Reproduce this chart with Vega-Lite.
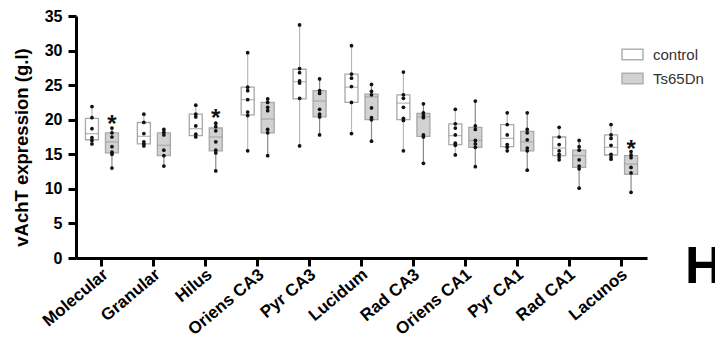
{
  "$schema": "https://vega.github.io/schema/vega-lite/v6.json",
  "width": 571,
  "height": 242,
  "autosize": {"type": "none"},
  "padding": {"left": 76, "top": 16, "right": 68, "bottom": 99},
  "background": "white",
  "config": {
    "view": {"stroke": null},
    "font": "Liberation Sans",
    "axis": {"grid": false, "domainColor": "black", "domainWidth": 3, "tickColor": "black", "tickWidth": 3, "tickSize": 8, "labelColor": "black", "labelFontWeight": "bold", "labelFontSize": 16, "titleColor": "black", "titleFontWeight": "bold", "titleFontSize": 18.5},
    "axisX": {"labelFontSize": 17},
    "axisY": {"titleY": 131, "titleAlign": "center"}
  },
  "title": {"text": "H", "orient": "top", "anchor": "end", "frame": "group", "align": "left", "baseline": "alphabetic", "fontSize": 52, "fontWeight": "bold", "color": "black", "font": "Liberation Sans", "dx": 38, "dy": 331},
  "datasets": {
    "stats": [
      {"region": "Molecular", "group": "control", "min": 16.5, "q1": 17.1, "median": 18.0, "q3": 20.2, "max": 21.9},
      {"region": "Molecular", "group": "Ts65Dn", "min": 13.0, "q1": 15.2, "median": 16.8, "q3": 18.1, "max": 18.8},
      {"region": "Granular", "group": "control", "min": 16.2, "q1": 16.5, "median": 17.6, "q3": 19.6, "max": 20.8},
      {"region": "Granular", "group": "Ts65Dn", "min": 13.3, "q1": 14.8, "median": 16.3, "q3": 18.1, "max": 18.6},
      {"region": "Hilus", "group": "control", "min": 17.5, "q1": 17.7, "median": 18.7, "q3": 20.8, "max": 22.1},
      {"region": "Hilus", "group": "Ts65Dn", "min": 12.6, "q1": 15.5, "median": 17.5, "q3": 18.8, "max": 19.5},
      {"region": "Oriens CA3", "group": "control", "min": 15.5, "q1": 20.7, "median": 22.9, "q3": 24.7, "max": 29.7},
      {"region": "Oriens CA3", "group": "Ts65Dn", "min": 14.8, "q1": 18.1, "median": 20.1, "q3": 22.5, "max": 23.0},
      {"region": "Pyr CA3", "group": "control", "min": 16.2, "q1": 23.0, "median": 25.5, "q3": 27.3, "max": 33.7},
      {"region": "Pyr CA3", "group": "Ts65Dn", "min": 17.8, "q1": 20.4, "median": 22.7, "q3": 24.2, "max": 25.9},
      {"region": "Lucidum", "group": "control", "min": 18.0, "q1": 22.5, "median": 24.7, "q3": 26.6, "max": 30.7},
      {"region": "Lucidum", "group": "Ts65Dn", "min": 16.9, "q1": 20.0, "median": 23.3, "q3": 23.7, "max": 25.1},
      {"region": "Rad CA3", "group": "control", "min": 15.5, "q1": 20.0, "median": 22.4, "q3": 23.6, "max": 26.9},
      {"region": "Rad CA3", "group": "Ts65Dn", "min": 13.7, "q1": 17.6, "median": 20.4, "q3": 20.9, "max": 22.3},
      {"region": "Oriens CA1", "group": "control", "min": 14.9, "q1": 16.4, "median": 17.7, "q3": 19.4, "max": 21.5},
      {"region": "Oriens CA1", "group": "Ts65Dn", "min": 13.2, "q1": 16.0, "median": 17.0, "q3": 18.9, "max": 22.7},
      {"region": "Pyr CA1", "group": "control", "min": 15.5, "q1": 16.1, "median": 17.3, "q3": 19.3, "max": 21.0},
      {"region": "Pyr CA1", "group": "Ts65Dn", "min": 12.7, "q1": 15.5, "median": 16.8, "q3": 18.3, "max": 21.0},
      {"region": "Rad CA1", "group": "control", "min": 14.2, "q1": 14.8, "median": 15.9, "q3": 17.5, "max": 18.9},
      {"region": "Rad CA1", "group": "Ts65Dn", "min": 10.1, "q1": 13.1, "median": 14.8, "q3": 15.6, "max": 17.0},
      {"region": "Lacunos", "group": "control", "min": 14.3, "q1": 14.9, "median": 16.0, "q3": 17.8, "max": 19.3},
      {"region": "Lacunos", "group": "Ts65Dn", "min": 9.5, "q1": 12.1, "median": 13.6, "q3": 14.8, "max": 15.4}
    ],
    "points": [
      {"region": "Molecular", "group": "control", "value": 21.9}, {"region": "Molecular", "group": "control", "value": 20.3}, {"region": "Molecular", "group": "control", "value": 18.7}, {"region": "Molecular", "group": "control", "value": 17.4}, {"region": "Molecular", "group": "control", "value": 17.0}, {"region": "Molecular", "group": "control", "value": 16.5},
      {"region": "Molecular", "group": "Ts65Dn", "value": 18.8}, {"region": "Molecular", "group": "Ts65Dn", "value": 18.1}, {"region": "Molecular", "group": "Ts65Dn", "value": 17.5}, {"region": "Molecular", "group": "Ts65Dn", "value": 16.1}, {"region": "Molecular", "group": "Ts65Dn", "value": 15.3}, {"region": "Molecular", "group": "Ts65Dn", "value": 15.0}, {"region": "Molecular", "group": "Ts65Dn", "value": 13.0},
      {"region": "Granular", "group": "control", "value": 20.8}, {"region": "Granular", "group": "control", "value": 19.6}, {"region": "Granular", "group": "control", "value": 18.0}, {"region": "Granular", "group": "control", "value": 16.8}, {"region": "Granular", "group": "control", "value": 16.5}, {"region": "Granular", "group": "control", "value": 16.2},
      {"region": "Granular", "group": "Ts65Dn", "value": 18.6}, {"region": "Granular", "group": "Ts65Dn", "value": 18.2}, {"region": "Granular", "group": "Ts65Dn", "value": 17.8}, {"region": "Granular", "group": "Ts65Dn", "value": 15.6}, {"region": "Granular", "group": "Ts65Dn", "value": 14.8}, {"region": "Granular", "group": "Ts65Dn", "value": 13.3},
      {"region": "Hilus", "group": "control", "value": 22.1}, {"region": "Hilus", "group": "control", "value": 20.8}, {"region": "Hilus", "group": "control", "value": 20.4}, {"region": "Hilus", "group": "control", "value": 19.1}, {"region": "Hilus", "group": "control", "value": 17.9}, {"region": "Hilus", "group": "control", "value": 17.5},
      {"region": "Hilus", "group": "Ts65Dn", "value": 19.5}, {"region": "Hilus", "group": "Ts65Dn", "value": 19.0}, {"region": "Hilus", "group": "Ts65Dn", "value": 18.4}, {"region": "Hilus", "group": "Ts65Dn", "value": 16.8}, {"region": "Hilus", "group": "Ts65Dn", "value": 15.6}, {"region": "Hilus", "group": "Ts65Dn", "value": 15.2}, {"region": "Hilus", "group": "Ts65Dn", "value": 12.6},
      {"region": "Oriens CA3", "group": "control", "value": 29.7}, {"region": "Oriens CA3", "group": "control", "value": 24.7}, {"region": "Oriens CA3", "group": "control", "value": 24.2}, {"region": "Oriens CA3", "group": "control", "value": 22.9}, {"region": "Oriens CA3", "group": "control", "value": 21.1}, {"region": "Oriens CA3", "group": "control", "value": 20.6}, {"region": "Oriens CA3", "group": "control", "value": 15.5},
      {"region": "Oriens CA3", "group": "Ts65Dn", "value": 23.0}, {"region": "Oriens CA3", "group": "Ts65Dn", "value": 22.5}, {"region": "Oriens CA3", "group": "Ts65Dn", "value": 21.8}, {"region": "Oriens CA3", "group": "Ts65Dn", "value": 21.3}, {"region": "Oriens CA3", "group": "Ts65Dn", "value": 18.6}, {"region": "Oriens CA3", "group": "Ts65Dn", "value": 18.1}, {"region": "Oriens CA3", "group": "Ts65Dn", "value": 14.8},
      {"region": "Pyr CA3", "group": "control", "value": 33.7}, {"region": "Pyr CA3", "group": "control", "value": 27.4}, {"region": "Pyr CA3", "group": "control", "value": 26.8}, {"region": "Pyr CA3", "group": "control", "value": 25.6}, {"region": "Pyr CA3", "group": "control", "value": 25.3}, {"region": "Pyr CA3", "group": "control", "value": 23.1}, {"region": "Pyr CA3", "group": "control", "value": 16.2},
      {"region": "Pyr CA3", "group": "Ts65Dn", "value": 25.9}, {"region": "Pyr CA3", "group": "Ts65Dn", "value": 24.2}, {"region": "Pyr CA3", "group": "Ts65Dn", "value": 23.8}, {"region": "Pyr CA3", "group": "Ts65Dn", "value": 21.5}, {"region": "Pyr CA3", "group": "Ts65Dn", "value": 20.8}, {"region": "Pyr CA3", "group": "Ts65Dn", "value": 20.4}, {"region": "Pyr CA3", "group": "Ts65Dn", "value": 17.8},
      {"region": "Lucidum", "group": "control", "value": 30.7}, {"region": "Lucidum", "group": "control", "value": 26.6}, {"region": "Lucidum", "group": "control", "value": 26.0}, {"region": "Lucidum", "group": "control", "value": 24.8}, {"region": "Lucidum", "group": "control", "value": 22.5}, {"region": "Lucidum", "group": "control", "value": 18.0},
      {"region": "Lucidum", "group": "Ts65Dn", "value": 25.1}, {"region": "Lucidum", "group": "Ts65Dn", "value": 24.1}, {"region": "Lucidum", "group": "Ts65Dn", "value": 23.6}, {"region": "Lucidum", "group": "Ts65Dn", "value": 21.7}, {"region": "Lucidum", "group": "Ts65Dn", "value": 20.3}, {"region": "Lucidum", "group": "Ts65Dn", "value": 20.0}, {"region": "Lucidum", "group": "Ts65Dn", "value": 16.9},
      {"region": "Rad CA3", "group": "control", "value": 26.9}, {"region": "Rad CA3", "group": "control", "value": 23.6}, {"region": "Rad CA3", "group": "control", "value": 23.1}, {"region": "Rad CA3", "group": "control", "value": 21.8}, {"region": "Rad CA3", "group": "control", "value": 20.2}, {"region": "Rad CA3", "group": "control", "value": 19.9}, {"region": "Rad CA3", "group": "control", "value": 15.5},
      {"region": "Rad CA3", "group": "Ts65Dn", "value": 22.3}, {"region": "Rad CA3", "group": "Ts65Dn", "value": 21.0}, {"region": "Rad CA3", "group": "Ts65Dn", "value": 20.6}, {"region": "Rad CA3", "group": "Ts65Dn", "value": 20.3}, {"region": "Rad CA3", "group": "Ts65Dn", "value": 17.8}, {"region": "Rad CA3", "group": "Ts65Dn", "value": 17.5}, {"region": "Rad CA3", "group": "Ts65Dn", "value": 13.7},
      {"region": "Oriens CA1", "group": "control", "value": 21.5}, {"region": "Oriens CA1", "group": "control", "value": 19.4}, {"region": "Oriens CA1", "group": "control", "value": 18.8}, {"region": "Oriens CA1", "group": "control", "value": 17.8}, {"region": "Oriens CA1", "group": "control", "value": 16.6}, {"region": "Oriens CA1", "group": "control", "value": 16.3}, {"region": "Oriens CA1", "group": "control", "value": 14.9},
      {"region": "Oriens CA1", "group": "Ts65Dn", "value": 22.7}, {"region": "Oriens CA1", "group": "Ts65Dn", "value": 19.1}, {"region": "Oriens CA1", "group": "Ts65Dn", "value": 18.6}, {"region": "Oriens CA1", "group": "Ts65Dn", "value": 17.0}, {"region": "Oriens CA1", "group": "Ts65Dn", "value": 16.5}, {"region": "Oriens CA1", "group": "Ts65Dn", "value": 16.0}, {"region": "Oriens CA1", "group": "Ts65Dn", "value": 13.2},
      {"region": "Pyr CA1", "group": "control", "value": 21.0}, {"region": "Pyr CA1", "group": "control", "value": 19.3}, {"region": "Pyr CA1", "group": "control", "value": 17.8}, {"region": "Pyr CA1", "group": "control", "value": 16.4}, {"region": "Pyr CA1", "group": "control", "value": 16.0}, {"region": "Pyr CA1", "group": "control", "value": 15.5},
      {"region": "Pyr CA1", "group": "Ts65Dn", "value": 21.0}, {"region": "Pyr CA1", "group": "Ts65Dn", "value": 18.6}, {"region": "Pyr CA1", "group": "Ts65Dn", "value": 18.1}, {"region": "Pyr CA1", "group": "Ts65Dn", "value": 17.1}, {"region": "Pyr CA1", "group": "Ts65Dn", "value": 15.9}, {"region": "Pyr CA1", "group": "Ts65Dn", "value": 15.5}, {"region": "Pyr CA1", "group": "Ts65Dn", "value": 12.7},
      {"region": "Rad CA1", "group": "control", "value": 18.9}, {"region": "Rad CA1", "group": "control", "value": 17.5}, {"region": "Rad CA1", "group": "control", "value": 16.4}, {"region": "Rad CA1", "group": "control", "value": 15.5}, {"region": "Rad CA1", "group": "control", "value": 15.0}, {"region": "Rad CA1", "group": "control", "value": 14.6}, {"region": "Rad CA1", "group": "control", "value": 14.2},
      {"region": "Rad CA1", "group": "Ts65Dn", "value": 17.0}, {"region": "Rad CA1", "group": "Ts65Dn", "value": 16.1}, {"region": "Rad CA1", "group": "Ts65Dn", "value": 15.6}, {"region": "Rad CA1", "group": "Ts65Dn", "value": 14.2}, {"region": "Rad CA1", "group": "Ts65Dn", "value": 13.3}, {"region": "Rad CA1", "group": "Ts65Dn", "value": 12.9}, {"region": "Rad CA1", "group": "Ts65Dn", "value": 10.1},
      {"region": "Lacunos", "group": "control", "value": 19.3}, {"region": "Lacunos", "group": "control", "value": 17.8}, {"region": "Lacunos", "group": "control", "value": 17.3}, {"region": "Lacunos", "group": "control", "value": 16.3}, {"region": "Lacunos", "group": "control", "value": 15.0}, {"region": "Lacunos", "group": "control", "value": 14.6}, {"region": "Lacunos", "group": "control", "value": 14.3},
      {"region": "Lacunos", "group": "Ts65Dn", "value": 15.4}, {"region": "Lacunos", "group": "Ts65Dn", "value": 14.9}, {"region": "Lacunos", "group": "Ts65Dn", "value": 14.5}, {"region": "Lacunos", "group": "Ts65Dn", "value": 13.1}, {"region": "Lacunos", "group": "Ts65Dn", "value": 12.3}, {"region": "Lacunos", "group": "Ts65Dn", "value": 9.5}
    ],
    "stars": [
      {"region": "Molecular", "group": "Ts65Dn", "y": 20.3, "label": "*"},
      {"region": "Hilus", "group": "Ts65Dn", "y": 21.1, "label": "*"},
      {"region": "Lacunos", "group": "Ts65Dn", "y": 16.7, "label": "*"}
    ]
  },
  "encoding": {
    "x": {"field": "region", "type": "nominal", "sort": ["Molecular", "Granular", "Hilus", "Oriens CA3", "Pyr CA3", "Lucidum", "Rad CA3", "Oriens CA1", "Pyr CA1", "Rad CA1", "Lacunos"], "scale": {"paddingInner": 0, "paddingOuter": 0}, "axis": {"title": null, "labelAngle": -40, "labelAlign": "right", "labelBaseline": "middle", "labelPadding": 6, "labelOffset": 4}},
    "xOffset": {"field": "group", "type": "nominal", "sort": ["control", "Ts65Dn"], "scale": {"paddingInner": 0.35, "paddingOuter": 0.4725}}
  },
  "layer": [
    {
      "data": {"name": "stats"},
      "transform": [{"filter": "datum.group == 'control'"}],
      "mark": {"type": "rule", "strokeWidth": 1.2, "color": "#b8b8b8"},
      "encoding": {
        "y": {"field": "min", "type": "quantitative", "scale": {"domain": [0, 35], "nice": false, "zero": true}, "axis": {"title": "vAchT expression (g.l)", "values": [0, 5, 10, 15, 20, 25, 30, 35], "labelOverlap": false, "titlePadding": 13, "labelPadding": 6}},
        "y2": {"field": "max"}
      }
    },
    {
      "data": {"name": "stats"},
      "transform": [{"filter": "datum.group == 'Ts65Dn'"}],
      "mark": {"type": "rule", "strokeWidth": 1.2, "color": "#8a8a8a"},
      "encoding": {
        "y": {"field": "min", "type": "quantitative", "axis": {"title": "vAchT expression (g.l)", "values": [0, 5, 10, 15, 20, 25, 30, 35], "labelOverlap": false, "titlePadding": 13, "labelPadding": 6}},
        "y2": {"field": "max"}
      }
    },
    {
      "data": {"name": "stats"},
      "mark": {"type": "bar", "strokeWidth": 1.3, "stroke": "#a8a8a8"},
      "encoding": {
        "y": {"field": "q1", "type": "quantitative", "axis": {"title": "vAchT expression (g.l)", "values": [0, 5, 10, 15, 20, 25, 30, 35], "labelOverlap": false, "titlePadding": 13, "labelPadding": 6}},
        "y2": {"field": "q3"},
        "fill": {"field": "group", "type": "nominal", "scale": {"domain": ["control", "Ts65Dn"], "range": ["#ffffff", "#d2d2d2"]}, "legend": {"title": null, "orient": "none", "legendX": 545, "legendY": 27, "symbolType": "M-1,-0.5H1V0.5H-1Z", "symbolSize": 441, "symbolStrokeColor": "#b0b0b0", "symbolStrokeWidth": 1.5, "symbolOpacity": 1, "labelFontSize": 15, "labelFont": "Liberation Sans", "labelColor": "#333333", "labelOffset": 9, "rowPadding": 4}}
      }
    },
    {
      "data": {"name": "stats"},
      "mark": {"type": "tick", "color": "#999999", "thickness": 1.2, "size": 13},
      "encoding": {"y": {"field": "median", "type": "quantitative", "axis": {"title": "vAchT expression (g.l)", "values": [0, 5, 10, 15, 20, 25, 30, 35], "labelOverlap": false, "titlePadding": 13, "labelPadding": 6}}}
    },
    {
      "data": {"name": "points"},
      "mark": {"type": "circle", "size": 14, "color": "#111111", "opacity": 1},
      "encoding": {"y": {"field": "value", "type": "quantitative", "axis": {"title": "vAchT expression (g.l)", "values": [0, 5, 10, 15, 20, 25, 30, 35], "labelOverlap": false, "titlePadding": 13, "labelPadding": 6}}}
    },
    {
      "data": {"name": "stars"},
      "mark": {"type": "text", "fontSize": 24, "fontWeight": "bold", "font": "Liberation Sans", "color": "#111111", "baseline": "alphabetic", "dy": 14},
      "encoding": {"y": {"field": "y", "type": "quantitative", "axis": {"title": "vAchT expression (g.l)", "values": [0, 5, 10, 15, 20, 25, 30, 35], "labelOverlap": false, "titlePadding": 13, "labelPadding": 6}}, "text": {"field": "label"}}
    }
  ]
}
